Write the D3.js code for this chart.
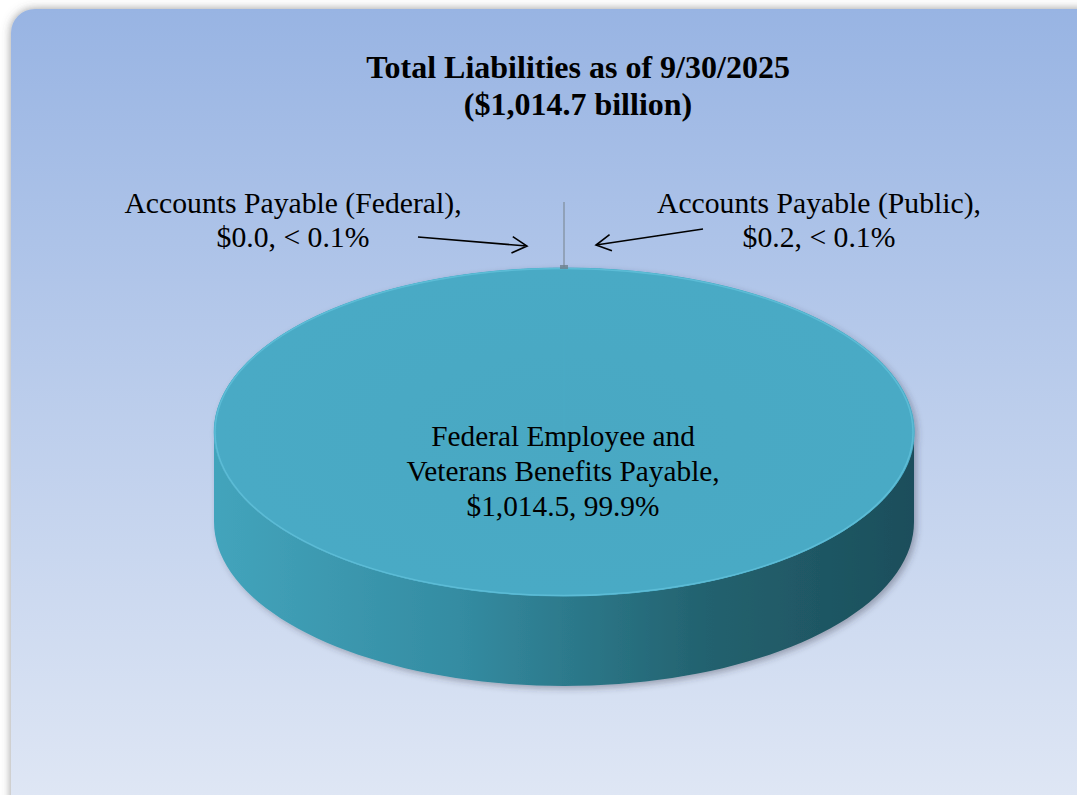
<!DOCTYPE html>
<meta charset="utf-8">
<script src="https://d3js.org/d3.v7.min.js"></script>
<style>
  body { margin: 0; background: #fff; }
  text { font-family: "Liberation Serif", "Times New Roman", serif; fill: #000; }
</style>
<div id="chart"></div>
<script>
// data
const categories = ["Accounts Payable (Federal)", "Accounts Payable (Public)", "Federal Employee and Veterans Benefits Payable"];
const values = [0.0, 0.2, 1014.5];
const pctLabels = ["< 0.1%", "< 0.1%", "99.9%"];
const titleLines = ["Total Liabilities as of 9/30/2025", "($1,014.7 billion)"];

const W = 1077, H = 795;
const svg = d3.select("#chart").append("svg")
  .attr("width", W).attr("height", H);

const defs = svg.append("defs");

// panel background
const bg = defs.append("linearGradient").attr("id", "bg")
  .attr("x1", 0).attr("y1", 0).attr("x2", 0).attr("y2", 1);
bg.append("stop").attr("offset", "0%").attr("stop-color", "#98b4e3");
bg.append("stop").attr("offset", "100%").attr("stop-color", "#e1e8f5");

const panelShadow = defs.append("filter").attr("id", "pshadow")
  .attr("x", "-5%").attr("y", "-5%").attr("width", "110%").attr("height", "110%");
panelShadow.append("feDropShadow").attr("dx", 0).attr("dy", 0)
  .attr("stdDeviation", 5).attr("flood-color", "#555").attr("flood-opacity", 0.6);

const pieShadow = defs.append("filter").attr("id", "pieshadow")
  .attr("x", "-10%").attr("y", "-10%").attr("width", "120%").attr("height", "130%");
pieShadow.append("feDropShadow").attr("dx", 3).attr("dy", 3)
  .attr("stdDeviation", 3).attr("flood-color", "#334").attr("flood-opacity", 0.35);

const sideGrad = defs.append("linearGradient").attr("id", "side")
  .attr("x1", 0).attr("y1", 0).attr("x2", 1).attr("y2", 0);
sideGrad.append("stop").attr("offset", "0%").attr("stop-color", "#43a4bc");
sideGrad.append("stop").attr("offset", "35%").attr("stop-color", "#348ca2");
sideGrad.append("stop").attr("offset", "70%").attr("stop-color", "#23626f");
sideGrad.append("stop").attr("offset", "100%").attr("stop-color", "#1c4e5b");

const topGrad = defs.append("radialGradient").attr("id", "topface")
  .attr("cx", "50%").attr("cy", "50%").attr("r", "55%");
topGrad.append("stop").attr("offset", "0%").attr("stop-color", "#49a8c3");
topGrad.append("stop").attr("offset", "90%").attr("stop-color", "#4aaac5");
topGrad.append("stop").attr("offset", "100%").attr("stop-color", "#52b3cd");

svg.append("rect")
  .attr("x", 11).attr("y", 9).attr("width", W + 20).attr("height", H + 20)
  .attr("rx", 24)
  .attr("fill", "url(#bg)")
  .attr("filter", "url(#pshadow)");

// title
svg.append("text")
  .attr("text-anchor", "middle")
  .style("font-size", "32px").style("font-weight", "bold")
  .selectAll("tspan").data(titleLines).join("tspan")
  .attr("x", 578).attr("y", (d, i) => 78 + i * 37)
  .text(d => d);

// 3d pie
const cx = 564, cy = 432, rx = 350, ry = 164, depth = 90;
const pie = d3.pie().sort(null).value(d => d)(values);

const ex = a => cx + rx * Math.sin(a);
const ey = a => cy - ry * Math.cos(a);

function sidePath(a0, a1) {
  const s = Math.max(a0, Math.PI / 2), e = Math.min(a1, 3 * Math.PI / 2);
  if (e <= s) return null;
  const n = 80, pts = [];
  for (let i = 0; i <= n; i++) { const a = s + (e - s) * i / n; pts.push([ex(a), ey(a)]); }
  for (let i = n; i >= 0; i--) { const a = s + (e - s) * i / n; pts.push([ex(a), ey(a) + depth]); }
  return d3.line()(pts) + "Z";
}

const pieG = svg.append("g").attr("filter", "url(#pieshadow)");

pieG.selectAll("path.side").data(pie).join("path")
  .attr("class", "side")
  .attr("d", d => sidePath(d.startAngle, d.endAngle))
  .attr("fill", "url(#side)");

const arc = d3.arc().innerRadius(0).outerRadius(rx);
const topG = pieG.append("g")
  .attr("transform", `translate(${cx},${cy}) scale(1,${ry / rx})`);
// base disc so slice seams don't show
topG.append("circle").attr("r", rx).attr("fill", "url(#topface)");
topG.selectAll("path.top").data(pie).join("path")
  .attr("class", "top")
  .attr("d", arc)
  .attr("fill", "url(#topface)")
  .attr("stroke", "#4aaac5").attr("stroke-width", 1)
  .attr("vector-effect", "non-scaling-stroke");
// rim highlight
topG.append("circle").attr("r", rx - 1)
  .attr("fill", "none").attr("stroke", "#5cbcd6").attr("stroke-width", 1.5)
  .attr("vector-effect", "non-scaling-stroke");

// small slice marker & leader line
const topY = ey(0);
svg.append("line")
  .attr("x1", cx).attr("x2", cx).attr("y1", 202).attr("y2", topY - 1)
  .attr("stroke", "#7f8c99").attr("stroke-width", 1.2);
svg.append("rect")
  .attr("x", cx - 4).attr("y", topY - 3).attr("width", 8).attr("height", 4)
  .attr("fill", "#6d7f8c").attr("opacity", 0.8);

// slice labels
const fmt = d3.format(",.1f");
const labelPos = [
  { x: 293, y: 213, arrow: [[418, 237], [527, 246]] },
  { x: 819, y: 213, arrow: [[703, 229], [596, 245]] }
];

labelPos.forEach((p, i) => {
  svg.append("text")
    .attr("text-anchor", "middle")
    .style("font-size", "29.7px")
    .selectAll("tspan").data([categories[i] + ",", "$" + fmt(values[i]) + ", " + pctLabels[i]])
    .join("tspan").attr("x", p.x).attr("y", (d, k) => p.y + k * 34).text(d => d);

  const [a, b] = p.arrow;
  const ang = Math.atan2(b[1] - a[1], b[0] - a[0]);
  const hl = 17, hw = 0.5;
  svg.append("path")
    .attr("d", d3.line()([a, b]) + "M" + [b[0] - hl * Math.cos(ang - hw), b[1] - hl * Math.sin(ang - hw)] +
      "L" + b + "L" + [b[0] - hl * Math.cos(ang + hw), b[1] - hl * Math.sin(ang + hw)])
    .attr("fill", "none").attr("stroke", "#000").attr("stroke-width", 1.6);
});

// main slice label
const mainLines = ["Federal Employee and", "Veterans Benefits Payable,", "$" + fmt(values[2]) + ", " + pctLabels[2]];
svg.append("text")
  .attr("text-anchor", "middle")
  .style("font-size", "29.3px")
  .selectAll("tspan").data(mainLines).join("tspan")
  .attr("x", 563).attr("y", (d, i) => 446 + i * 35).text(d => d);
</script>
